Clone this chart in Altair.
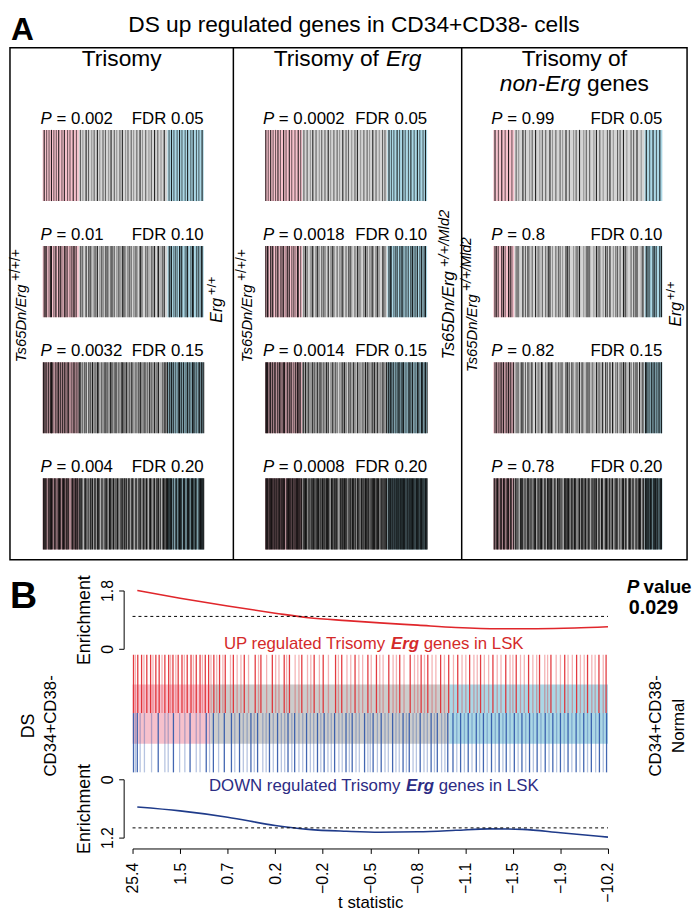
import json
import altair as alt
import pandas as pd

FONT = "Liberation Sans"

# ---------------- Panel A data ----------------
FDR_ROWS = ["0.05", "0.10", "0.15", "0.20"]
P_VALUES = [
    ["0.002", "0.01", "0.0032", "0.004"],
    ["0.0002", "0.0018", "0.0014", "0.0008"],
    ["0.99", "0.8", "0.82", "0.78"],
]
# boundaries of the up (pink) / middle (grey) / down (blue) zones on a 0-200 rank axis
REGION_BREAKS = [[45, 155], [46, 151], [25, 179]]

# barcode genes (rank position, shade 1-3); each FDR tier adds genes to the previous one
C1_TIERS = [
    [(2,3),(5,2),(8,2),(11,3),(14,2),(17,2),(20,3),(24,2),(27,3),(31,2),(34,2),(38,3),(42,2),
     (47,2),(50,1),(54,3),(57,2),(61,1),(64,2),(68,3),(71,1),(75,2),(78,2),(82,1),(85,3),(89,2),(92,1),
     (96,2),(99,3),(103,1),(106,2),(110,2),(113,1),(117,2),(121,3),(124,1),(128,2),(132,1),(135,2),
     (139,3),(143,2),(147,1),(151,3),
     (157,2),(160,3),(163,2),(167,2),(170,3),(173,2),(177,2),(180,3),(184,2),(187,3),(191,2),(194,2),(198,3)],
    [(4,3),(10,3),(16,2),(22,3),(29,3),(36,2),(40,3),
     (49,2),(59,3),(66,2),(73,2),(80,3),(87,2),(94,2),(101,3),(108,2),(115,2),(122,3),(130,2),(137,2),(144,3),(149,2),
     (158,3),(165,2),(172,3),(179,2),(186,3),(193,2),(197,3)],
    [(1,3),(7,3),(12,3),(19,3),(25,3),(32,3),(44,3),
     (46,3),(52,2),(62,3),(69,3),(77,2),(84,3),(91,3),(98,2),(104,3),(111,3),(119,2),(126,3),(133,3),(141,2),(153,3),
     (155,3),(162,3),(169,3),(175,3),(182,3),(189,3),(195,3),(200,3)],
    [(3,3),(9,3),(15,3),(21,3),(26,3),(30,3),(37,3),(41,3),(43,3),
     (48,3),(53,3),(56,2),(60,3),(65,3),(70,3),(74,2),(79,3),(83,3),(88,3),(93,3),(97,2),(102,3),(107,3),
     (112,3),(116,3),(120,2),(125,3),(129,3),(134,3),(138,2),(142,3),(146,3),(150,3),(154,3),
     (156,3),(159,3),(166,3),(171,3),(176,3),(181,3),(185,3),(190,3),(196,3),(199,3)],
]
C2_TIERS = [
    [(1,3),(4,2),(7,3),(10,2),(13,2),(16,3),(19,2),(23,3),(26,2),(30,3),(33,2),(37,2),(41,3),(44,2),
     (48,2),(52,2),(56,1),(59,3),(63,2),(67,1),(70,2),(74,2),(78,3),(81,1),(85,2),(89,2),(92,1),(96,3),
     (100,2),(103,2),(107,1),(111,2),(114,3),(118,1),(122,2),(126,2),(129,1),(133,3),(137,2),(141,1),(145,2),(148,2),
     (153,3),(156,2),(159,2),(163,3),(166,2),(170,3),(173,2),(177,2),(180,3),(184,2),(188,3),(191,2),(195,2),(198,3)],
    [(3,3),(9,3),(15,2),(21,3),(28,3),(35,2),(40,3),
     (50,3),(58,2),(65,3),(72,2),(83,3),(94,2),(105,3),(116,2),(124,3),(131,2),(139,3),(146,2),
     (155,3),(161,2),(168,3),(175,2),(182,3),(186,2),(193,3),(197,2)],
    [(2,3),(6,3),(12,3),(18,3),(24,3),(32,3),(38,3),(43,3),
     (47,3),(54,3),(61,2),(68,3),(76,3),(87,2),(98,3),(109,3),(120,2),(127,3),(135,3),(143,2),(150,3),
     (152,3),(158,3),(165,3),(171,3),(178,3),(189,3),(194,3),(200,3)],
    [(5,3),(8,3),(11,3),(14,3),(17,3),(20,3),(22,3),(27,3),(29,3),(31,3),(34,3),(36,3),(39,3),(42,3),(45,3),
     (49,3),(51,3),(55,2),(57,3),(60,3),(62,2),(64,3),(66,3),(69,2),(71,3),(73,3),(75,2),(77,3),(79,3),(82,3),
     (84,2),(86,3),(88,3),(90,2),(93,3),(95,3),(97,2),(99,3),(101,3),(104,2),(106,3),(108,3),(110,2),(112,3),
     (115,3),(117,2),(119,3),(121,3),(123,2),(125,3),(128,3),(130,2),(132,3),(134,3),(136,2),(138,3),(140,3),
     (142,2),(144,3),(147,3),(149,3),
     (154,3),(157,3),(160,3),(162,3),(164,3),(167,3),(169,3),(172,3),(174,3),(176,3),(179,3),(181,3),(183,3),
     (185,3),(187,3),(190,3),(192,3),(196,3),(199,3)],
]
C3_TIERS = [
    [(2,3),(6,2),(10,3),(14,2),(18,3),(22,2),
     (27,2),(30,1),(35,3),(38,2),(43,1),(46,2),(50,3),(55,1),(58,2),(62,2),(67,3),(70,1),(74,2),(79,2),(82,1),
     (86,3),(90,2),(95,1),(98,2),(102,3),(107,1),(110,2),(114,2),(119,1),(122,3),(126,2),(130,1),(135,2),(138,3),
     (142,1),(147,2),(150,2),(154,3),(158,1),(163,2),(166,2),(170,3),(175,1),
     (181,3),(185,2),(189,3),(193,2),(197,3)],
    [(4,3),(12,3),(20,3),
     (29,2),(41,3),(53,2),(65,3),(77,2),(88,3),(100,2),(112,3),(124,2),(133,3),(145,2),(156,3),(168,2),(177,3),
     (183,3),(191,3),(199,3)],
    [(8,3),(16,3),(24,3),
     (33,3),(45,2),(57,3),(69,3),(81,2),(93,3),(105,3),(117,2),(129,3),(141,3),(152,2),(161,3),(173,3),
     (180,3),(187,3),(195,3)],
    [(1,3),(5,3),(9,3),(13,3),(17,3),(21,3),
     (26,3),(28,2),(32,3),(34,3),(37,2),(40,3),(42,3),(44,2),(48,3),(49,3),(52,2),(54,3),(56,3),(60,2),(61,3),
     (64,3),(66,2),(68,3),(72,3),(73,2),(76,3),(78,3),(80,2),(84,3),(85,3),(87,2),(89,3),(92,3),(94,2),(96,3),
     (97,3),(101,2),(104,3),(106,3),(108,2),(109,3),(113,3),(116,2),(118,3),(120,3),(121,2),(125,3),(128,3),
     (132,2),(134,3),(137,3),(140,2),(144,3),(146,3),(149,2),(153,3),(157,3),(160,2),(162,3),(165,3),(169,2),
     (172,3),(174,3),(178,3),
     (182,3),(184,3),(186,3),(190,3),(192,3),(194,3),(198,3)],
]
TIERS = [C1_TIERS, C2_TIERS, C3_TIERS]

# ---------------- Panel B data ----------------
T_LABELS = ["25.4", "1.5", "0.7", "0.2", "\u22120.2", "\u22120.5", "\u22120.8",
            "\u22121.1", "\u22121.5", "\u22121.9", "\u221210.2"]
UP_CURVE_X = [1, 10, 20, 30, 37, 45, 52, 60, 68, 77, 85, 93, 100]
UP_CURVE_Y = [1.80, 1.56, 1.32, 1.10, 0.96, 0.87, 0.80, 0.73, 0.66, 0.62, 0.62, 0.64, 0.68]
DN_CURVE_X = [1, 10, 20, 30, 37, 45, 52, 60, 68, 75, 82, 90, 100]
DN_CURVE_Y = [0.57, 0.65, 0.78, 0.95, 1.03, 1.07, 1.09, 1.08, 1.05, 1.02, 1.03, 1.10, 1.19]
EXPECTED = 1.0
P_VALUE_B = "0.029"
BG_ZONES_B = [0, 16.4, 66.6, 100]

UP_STRONG = [0.2, 1.1, 1.9, 3.0, 3.8, 4.9, 5.6, 6.8, 7.6, 8.5, 9.6, 10.4, 11.5, 12.3, 13.4, 14.2, 15.3, 16.0,
             17.1, 18.3, 19.5, 21.2, 23.5, 25.8, 27.0, 29.4, 31.9, 33.0, 35.6, 38.2, 40.1, 42.7, 44.0, 46.8,
             49.5, 51.3, 53.9, 56.2, 58.4, 60.7, 62.1, 64.8, 66.5, 68.4, 70.9, 73.2, 75.8, 78.5, 80.7, 83.3,
             85.6, 88.0, 90.9, 93.4, 95.7, 98.1, 99.6]
UP_LIGHT = [0.6, 2.4, 4.3, 6.2, 8.0, 9.1, 10.9, 12.8, 14.7, 16.5, 17.7, 19.0, 20.6, 22.0, 22.8, 24.4, 26.5,
            28.2, 30.1, 30.8, 32.4, 34.2, 35.0, 36.8, 37.5, 39.3, 41.2, 43.3, 45.1, 45.9, 47.6, 48.4, 50.2,
            52.0, 52.7, 54.8, 55.5, 57.1, 59.3, 60.0, 61.4, 63.0, 63.8, 65.6, 67.5, 69.3, 70.1, 71.8, 72.5,
            74.0, 74.9, 76.7, 77.5, 79.4, 80.0, 81.6, 82.4, 84.2, 85.0, 86.7, 87.3, 89.1, 90.0, 91.6, 92.5,
            94.2, 95.0, 96.6, 97.3, 99.0]
DN_STRONG = [0.2, 1.0, 5.4, 8.6, 12.1, 15.5, 17.0, 19.3, 20.8, 22.5, 24.9, 26.3, 28.8, 30.5, 32.7, 34.1,
             36.6, 38.9, 40.3, 42.5, 44.9, 46.2, 48.8, 50.6, 52.3, 54.7, 56.9, 58.2, 60.5, 62.8, 64.1, 66.3,
             67.4, 69.0, 70.6, 72.3, 73.8, 75.5, 77.1, 78.6, 80.3, 81.9, 83.5, 85.1, 86.8, 88.4, 90.0, 91.6,
             93.3, 94.9, 96.5, 98.2, 99.7]
DN_LIGHT = [0.6, 1.6, 2.5, 4.0, 6.8, 7.5, 9.9, 11.0, 13.4, 14.2, 16.2, 18.1, 21.5, 23.3, 24.1, 25.6, 27.4,
            28.1, 29.6, 31.3, 32.0, 33.5, 35.0, 35.8, 37.4, 38.1, 39.6, 41.1, 41.8, 43.4, 44.1, 45.6, 47.0,
            47.7, 49.5, 50.0, 51.5, 53.1, 53.8, 55.4, 56.1, 57.6, 59.0, 59.7, 61.3, 62.0, 63.5, 65.0, 65.7,
            68.2, 69.8, 71.4, 73.0, 74.6, 76.3, 77.9, 79.4, 81.1, 82.7, 84.3, 85.9, 87.6, 89.2, 90.8, 92.4,
            94.1, 95.7, 97.4, 99.0]

# ---------------- styles ----------------
PINK, GREY, LBLUE = "#f6c1cc", "#d4d4d4", "#abd7e5"
SHADE_OPACITY = {1: 0.3, 2: 0.55, 3: 0.85}
COL_RANGES = [[33, 196], [258, 422], [489, 660]]
BOX_H = 518
ROW_RANGE = [83, 507.5]
RED, RED_TXT, BLUE, BLUE_TXT = "#e0262b", "#d42a2a", "#2d55a8", "#2c2c84"
NUM_LABEL = "datum.value == 0 ? '0' : format(datum.value, '.1f')"


def txt(s, x, y, size, color="black", align="left", baseline="alphabetic", angle=0,
        weight="normal", style="normal"):
    return alt.Chart(pd.DataFrame({"t": [s]})).mark_text(
        font=FONT, fontSize=size, color=color, align=align, baseline=baseline, angle=angle,
        fontWeight=weight, fontStyle=style
    ).encode(x=alt.value(x), y=alt.value(y), text="t:N")


def column_layer(ci):
    xs = alt.Scale(domain=[0, 200], range=COL_RANGES[ci], nice=False, zero=False)
    ys = alt.Scale(domain=FDR_ROWS, range=ROW_RANGE, paddingInner=0.387, paddingOuter=0)
    b0, b1 = REGION_BREAKS[ci]
    bg = []
    for r in FDR_ROWS:
        bg += [dict(row=r, start=0, end=b0, c=PINK), dict(row=r, start=b0, end=b1, c=GREY),
               dict(row=r, start=b1, end=200, c=LBLUE)]
    lines = []
    for ri, r in enumerate(FDR_ROWS):
        for t in range(ri + 1):
            for pos, sh in TIERS[ci][t]:
                lines.append(dict(row=r, pos=pos, op=SHADE_OPACITY[sh]))
    lab = pd.DataFrame({"row": FDR_ROWS, "p": ["= " + p for p in P_VALUES[ci]],
                        "f": ["FDR " + r for r in FDR_ROWS], "x0": [0] * 4, "x1": [200] * 4})
    Y = alt.Y("row:N", scale=ys, axis=None)
    bg_l = alt.Chart(pd.DataFrame(bg)).mark_rect().encode(
        x=alt.X("start:Q", scale=xs, axis=None), x2="end:Q", y=Y,
        color=alt.Color("c:N", scale=None))
    ln = alt.Chart(pd.DataFrame(lines)).mark_tick(size=72, thickness=1.1, color="black").encode(
        x=alt.X("pos:Q", scale=xs, axis=None), y=Y, opacity=alt.Opacity("op:Q", scale=None))
    tp = alt.Chart(lab).mark_text(text="P", font=FONT, fontSize=17, fontStyle="italic",
                                  align="left", baseline="alphabetic", dx=-2, dy=-42).encode(
        x=alt.X("x0:Q", scale=xs, axis=None), y=Y)
    tv = alt.Chart(lab).mark_text(font=FONT, fontSize=17, align="left", baseline="alphabetic",
                                  dx=14, dy=-42).encode(
        x=alt.X("x0:Q", scale=xs, axis=None), y=Y, text="p:N")
    tf = alt.Chart(lab).mark_text(font=FONT, fontSize=17, align="right", baseline="alphabetic",
                                  dx=0, dy=-42).encode(
        x=alt.X("x1:Q", scale=xs, axis=None), y=Y, text="f:N")
    return alt.layer(bg_l, ln, tp, tv, tf)


frame = alt.Chart(pd.DataFrame({"x": [226, 457]})).mark_rule(color="black", strokeWidth=1.5).encode(
    x=alt.X("x:Q", scale=alt.Scale(domain=[0, 685], range=[0, 685]), axis=None),
    y=alt.value(0), y2=alt.value(BOX_H))

annA = [
    txt("A", 1, -8, 32, weight="bold"),
    txt("DS up regulated genes in CD34+CD38- cells", 348, -16, 23, align="center"),
    txt("Trisomy", 113, 18, 23, align="center"),
    txt("Trisomy of", 266.8, 18, 23),
    txt("Erg", 380.5, 18, 23, style="italic"),
    txt("Trisomy of", 571, 18, 23, align="center"),
    txt("non-Erg", 495.6, 44, 23, style="italic"),
    txt("genes", 583.8, 44, 23),
    # side genotype labels
    txt("Ts65Dn/Erg", 11, 318, 15, angle=270, baseline="middle", style="italic"),
    txt("+/+/+", 6, 236, 14, angle=270, baseline="middle"),
    txt("Erg", 209, 278, 16, angle=270, baseline="middle", style="italic"),
    txt("+/+", 204, 250, 13, angle=270, baseline="middle"),
    txt("Ts65Dn/Erg", 240, 318, 15, angle=270, baseline="middle", style="italic"),
    txt("+/+/+", 235, 236, 14, angle=270, baseline="middle"),
    txt("Ts65Dn/Erg", 444, 315, 17, angle=270, baseline="middle", style="italic"),
    txt("+/+/Mld2", 439, 222, 15, angle=270, baseline="middle", style="italic"),
    txt("Ts65Dn/Erg", 467, 328, 15, angle=270, baseline="middle", style="italic"),
    txt("+/+/Mld2", 462, 246, 14, angle=270, baseline="middle", style="italic"),
    txt("Erg", 674, 282, 16, angle=270, baseline="middle", style="italic"),
    txt("+/+", 669, 255, 13, angle=270, baseline="middle"),
]

panelA = alt.layer(column_layer(0), column_layer(1), column_layer(2), frame, *annA).resolve_scale(
    x="independent").properties(width=685, height=BOX_H,
                                view=alt.ViewBackground(stroke="black", strokeWidth=1.5))

# ---------------- Panel B ----------------
xb = alt.Scale(domain=[0, 100], range=[124, 605], nice=False, zero=False)


def y_axis(values, title_y):
    return alt.Axis(values=values, offset=-115, tickSize=5, labelAngle=270, labelAlign="center",
                    labelBaseline="middle", labelPadding=11, labelFontSize=16, labelFont=FONT,
                    labelFlush=False, labelColor="black", labelExpr=NUM_LABEL,
                    domainColor="black", tickColor="black",
                    grid=False, title="Enrichment", titleFont=FONT, titleFontSize=18,
                    titleFontWeight="normal", titleColor="black", titleAngle=270, titleX=-40,
                    titleY=title_y, titleAlign="center", titleBaseline="middle")


ys_top = alt.Scale(domain=[0, 1.8], range=[90, 31], nice=False, zero=False)
ax_top = y_axis([0, 1.8], 60.5)
top_curve = alt.Chart(pd.DataFrame({"x": UP_CURVE_X, "e": UP_CURVE_Y})).mark_line(
    color=RED, strokeWidth=1.6, interpolate="monotone").encode(
    x=alt.X("x:Q", scale=xb, axis=None), y=alt.Y("e:Q", scale=ys_top, axis=ax_top))
top_dash = alt.Chart(pd.DataFrame({"x": [0], "x2": [100], "e": [EXPECTED]})).mark_rule(
    color="black", strokeDash=[3, 3], strokeWidth=1).encode(
    x=alt.X("x:Q", scale=xb, axis=None), x2="x2:Q", y=alt.Y("e:Q", scale=ys_top, axis=ax_top))
top = alt.layer(
    top_curve, top_dash,
    txt("B", 0, 49, 38, weight="bold"),
    txt("P", 624, 34, 19, weight="bold", style="italic"),
    txt("value", 641, 34, 19, weight="bold"),
    txt(P_VALUE_B, 651, 55, 20, weight="bold", align="center"),
    txt("UP regulated Trisomy", 216.4, 90, 17, color=RED_TXT),
    txt("Erg", 385.5, 90, 17, color=RED_TXT, weight="bold", style="italic"),
    txt("genes in LSK", 418.5, 90, 17, color=RED_TXT),
).properties(width=685, height=93)

bars_bg = alt.Chart(pd.DataFrame({"s": BG_ZONES_B[:-1], "e": BG_ZONES_B[1:],
                                  "c": [PINK, "#cccccc", LBLUE]})).mark_rect().encode(
    x=alt.X("s:Q", scale=xb, axis=None), x2="e:Q", y=alt.value(33), y2=alt.value(93),
    color=alt.Color("c:N", scale=None))
up_df = pd.DataFrame({"x": UP_STRONG + UP_LIGHT,
                      "op": [0.9] * len(UP_STRONG) + [0.35] * len(UP_LIGHT)})
dn_df = pd.DataFrame({"x": DN_STRONG + DN_LIGHT,
                      "op": [0.9] * len(DN_STRONG) + [0.35] * len(DN_LIGHT)})
up_rules = alt.Chart(up_df).mark_rule(color=RED, strokeWidth=1.3).encode(
    x=alt.X("x:Q", scale=xb, axis=None), y=alt.value(3), y2=alt.value(62),
    opacity=alt.Opacity("op:Q", scale=None))
dn_rules = alt.Chart(dn_df).mark_rule(color=BLUE, strokeWidth=1.3).encode(
    x=alt.X("x:Q", scale=xb, axis=None), y=alt.value(62), y2=alt.value(122),
    opacity=alt.Opacity("op:Q", scale=None))
bar = alt.layer(
    bars_bg, up_rules, dn_rules,
    txt("DS", 19, 75, 18, angle=270, align="center", baseline="middle"),
    txt("CD34+CD38-", 42, 75, 17, angle=270, align="center", baseline="middle"),
    txt("CD34+CD38-", 654, 75, 17, angle=270, align="center", baseline="middle"),
    txt("Normal", 677, 75, 17, angle=270, align="center", baseline="middle"),
).properties(width=685, height=125)

ys_bot = alt.Scale(domain=[0, 1.2], range=[4, 63], nice=False, zero=False)
ax_bot = y_axis([0, 1.2], 33.5)
x_axis = alt.Axis(values=list(range(0, 101, 10)),
                  labelExpr=json.dumps(T_LABELS) + "[round(datum.value / 10)]",
                  labelAngle=270, labelAlign="right", labelBaseline="middle", labelPadding=9,
                  labelFontSize=16, labelFont=FONT, labelFlush=False, labelColor="black",
                  tickSize=5, domainColor="black", tickColor="black", grid=False,
                  title="t statistic", titleFont=FONT, titleFontSize=17, titleFontWeight="normal",
                  titleColor="black", titleX=364.5, titleY=60, titleAlign="center",
                  titleBaseline="alphabetic")
bot_curve = alt.Chart(pd.DataFrame({"x": DN_CURVE_X, "e": DN_CURVE_Y})).mark_line(
    color="#1f3b8a", strokeWidth=1.6, interpolate="monotone").encode(
    x=alt.X("x:Q", scale=xb, axis=x_axis), y=alt.Y("e:Q", scale=ys_bot, axis=ax_bot))
bot_dash = alt.Chart(pd.DataFrame({"x": [0], "x2": [100], "e": [EXPECTED]})).mark_rule(
    color="black", strokeDash=[3, 3], strokeWidth=1).encode(
    x=alt.X("x:Q", scale=xb, axis=x_axis), x2="x2:Q", y=alt.Y("e:Q", scale=ys_bot, axis=ax_bot))
bot = alt.layer(
    bot_curve, bot_dash,
    txt("DOWN regulated Trisomy", 201.3, 16, 17, color=BLUE_TXT),
    txt("Erg", 400.6, 16, 17, color=BLUE_TXT, weight="bold", style="italic"),
    txt("genes in LSK", 433.7, 16, 17, color=BLUE_TXT),
).properties(width=685, height=74)

chart = alt.vconcat(panelA, top, bar, bot, spacing=0, bounds="flush").properties(
    padding=0).configure_view(strokeWidth=0)

chart.save("out.html", embed_options={"renderer": "svg", "actions": False})
